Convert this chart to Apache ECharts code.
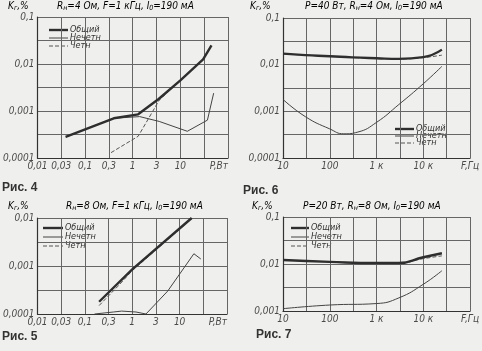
<!DOCTYPE html>
<html>
<head>
<meta charset="utf-8">
<script src="https://cdn.jsdelivr.net/npm/echarts@6/dist/echarts.min.js"></script>
<style>
  html, body { margin: 0; padding: 0; background: #efefed; }
  #chart { width: 482px; height: 351px; }
</style>
</head>
<body>
<div id="chart"></div>
<script>
// Рис. 4  (Kг от P, Rн=4 Ом)
var fig4TotalP = [0.039, 0.4, 1.3, 3.5, 10, 30, 45];
var fig4TotalK = [0.00028, 0.0007, 0.00085, 0.0018, 0.0045, 0.0125, 0.025];
var fig4OddP = [0.039, 0.4, 1.4, 3.6, 14, 37, 50];
var fig4OddK = [0.00028, 0.0007, 0.00076, 0.0006, 0.00037, 0.00064, 0.0024];
var fig4EvenP = [0.35, 1.3, 3.6, 10, 30, 45];
var fig4EvenK = [0.00013, 0.00029, 0.0017, 0.0045, 0.0125, 0.025];

// Рис. 6  (Kг от F, P=40 Вт)
var fig6F = [10, 30, 100, 300, 1000, 3000, 10000, 25000];
var fig6Total = [0.0172, 0.016, 0.0152, 0.0143, 0.0137, 0.0133, 0.0145, 0.021];
var fig6Even = [0.0172, 0.016, 0.0152, 0.0143, 0.0137, 0.0133, 0.0142, 0.016];
var fig6OddF = [10, 30, 100, 200, 400, 1000, 3000, 10000, 25000];
var fig6Odd = [0.0018, 0.00077, 0.00042, 0.00033, 0.00036, 0.00058, 0.0014, 0.0039, 0.0092];

// Рис. 5  (Kг от P, Rн=8 Ом)
var fig5TotalP = [0.2, 1, 18];
var fig5TotalK = [0.00018, 0.00085, 0.01];
var fig5EvenP = [0.2, 0.5, 1, 18];
var fig5EvenK = [0.00015, 0.00038, 0.0008, 0.0097];
var fig5OddP = [0.16, 0.4, 0.6, 1.2, 1.95, 5.6, 20, 28];
var fig5OddK = [0.0001, 0.00011, 0.000115, 0.00011, 0.0001, 0.0003, 0.0018, 0.0014];

// Рис. 7  (Kг от F, P=20 Вт)
var fig7F = [10, 100, 1000, 3000, 10000, 25000];
var fig7Total = [0.0122, 0.0111, 0.0105, 0.0105, 0.0139, 0.0169];
var fig7Even = [0.0122, 0.0111, 0.0105, 0.0105, 0.013, 0.0149];
var fig7Odd = [0.00112, 0.00134, 0.00144, 0.0019, 0.0037, 0.0072];

// подписи делений
var pTicks = ['0,01', '0,03', '0,1', '0,3', '1', '3', '10', '', 'P,Вт'];
var fTicks = ['10', '', '100', '', '1 к', '', '10 к', '', 'F,Гц'];
var kTicks4 = ['0,0001', '', '0,001', '', '0,01', '', '0,1'];
var kTicks5 = ['0,0001', '', '0,001', '', '0,01'];
var kTicks7 = ['0,001', '', '0,01', '', '0,1'];
var names = ['Общий', 'Нечетн', 'Четн'];

var font = "'Liberation Sans Narrow', 'DejaVu Sans Condensed', 'Liberation Sans', sans-serif";
var ink = '#333';
var txt = '#4a4a4a';
var step = Math.sqrt(10);
// стили трёх кривых: общий, нечетн, четн
var styles = [
	{ color: '#2e2e2e', width: 2.4, type: 'solid' },
	{ color: '#444', width: 1, type: 'solid' },
	{ color: '#555', width: 1, type: [4, 2] }
];

function zip(xs, ys) {
	var out = [];
	for (var i = 0; i < xs.length; i++) out.push([xs[i], ys[i]]);
	return out;
}

function axisX(gi, min, max, labels, alignMax) {
	return {
		type: 'log', logBase: step, gridIndex: gi, min: min, max: max,
		axisLine: { lineStyle: { color: ink, width: 1.2 } },
		axisTick: { show: false },
		splitLine: { show: true, lineStyle: { color: '#666', width: 1 } },
		axisLabel: {
			interval: 0, margin: 3, fontSize: 10, fontStyle: 'italic', color: txt, fontFamily: font,
			showMinLabel: true, showMaxLabel: true, alignMaxLabel: alignMax,
			formatter: function(v, i) { return labels[i] || ''; }
		}
	};
}

function axisY(gi, min, max, labels) {
	return {
		type: 'log', logBase: step, gridIndex: gi, min: min, max: max,
		axisLine: { show: true, lineStyle: { color: ink, width: 1.2 } },
		axisTick: { show: false },
		splitLine: { show: true, lineStyle: { color: '#666', width: 1 } },
		axisLabel: {
			interval: 0, margin: 3, fontSize: 10, fontStyle: 'italic', color: txt, fontFamily: font,
			showMinLabel: true, showMaxLabel: true,
			formatter: function(v, i) { return labels[i] || ''; }
		}
	};
}

function lines(gi, sets, smooth) {
	return sets.map(function(d, k) {
		return {
			name: names[k], type: 'line', xAxisIndex: gi, yAxisIndex: gi, data: d, smooth: smooth,
			symbol: 'none', lineStyle: styles[k], itemStyle: { color: styles[k].color }, z: k == 0 ? 3 : 2
		};
	});
}

// легенда рисуется вручную: короткий отрезок + подпись
function legendAt(x, y, len, gap) {
	var out = [];
	for (var k = 0; k < 3; k++) {
		var yy = y + k * gap;
		out.push({
			type: 'line', shape: { x1: x, y1: yy, x2: x + len, y2: yy },
			style: { stroke: styles[k].color, lineWidth: styles[k].width, lineDash: k == 2 ? [4, 2] : null }
		});
		out.push({
			type: 'text', x: x + len + 2, y: yy,
			style: { text: names[k], fill: '#333', font: 'italic 9px ' + font, textVerticalAlign: 'middle' }
		});
	}
	return out;
}

var rich = {
	i: { fontSize: 10, fontStyle: 'italic', fontFamily: font, color: txt, lineHeight: 12 },
	s: { fontSize: 7, fontStyle: 'italic', fontFamily: font, color: txt, lineHeight: 8, verticalAlign: 'bottom' }
};

function label(x, y, text) {
	return { type: 'text', left: x, top: y, style: { text: text, rich: rich } };
}

function caption(x, y, text) {
	return { type: 'text', left: x, top: y, style: { text: text, fill: '#333', font: 'bold 12px "Liberation Sans", sans-serif' } };
}

var chart = echarts.init(document.getElementById('chart'));
var series = []
	.concat(lines(0, [zip(fig4TotalP, fig4TotalK), zip(fig4OddP, fig4OddK), zip(fig4EvenP, fig4EvenK)], false))
	.concat(lines(1, [zip(fig6F, fig6Total), zip(fig6OddF, fig6Odd), zip(fig6F, fig6Even)], true))
	.concat(lines(2, [zip(fig5TotalP, fig5TotalK), zip(fig5OddP, fig5OddK), zip(fig5EvenP, fig5EvenK)], false))
	.concat(lines(3, [zip(fig7F, fig7Total), zip(fig7F, fig7Odd), zip(fig7F, fig7Even)], true));

var graphics = [
	label(8, 1, '{i|K}{s|г}{i|,%}'),
	label(57, 1, '{i|R}{s|н}{i|=4 Ом, F=1 кГц, I}{s|0}{i|=190 мА}'),
	label(250, 1, '{i|K}{s|г}{i|,%}'),
	label(305, 1, '{i|P=40 Вт, R}{s|н}{i|=4 Ом, I}{s|0}{i|=190 мА}'),
	label(8, 201, '{i|K}{s|г}{i|,%}'),
	label(66, 201, '{i|R}{s|н}{i|=8 Ом, F=1 кГц, I}{s|0}{i|=190 мА}'),
	label(252, 201, '{i|K}{s|г}{i|,%}'),
	label(303, 201, '{i|P=20 Вт, R}{s|н}{i|=8 Ом, I}{s|0}{i|=190 мА}'),
	caption(2, 182, 'Рис. 4'),
	caption(243, 185, 'Рис. 6'),
	caption(2, 331, 'Рис. 5'),
	caption(256, 329, 'Рис. 7')
]
	.concat(legendAt(49, 30, 19, 8))
	.concat(legendAt(395, 129, 19, 7))
	.concat(legendAt(43, 228, 20, 9))
	.concat(legendAt(291, 228, 18, 9));

chart.setOption({
	backgroundColor: '#efefed',
	animation: false,
	grid: [
		{ left: 34, top: 17, width: 194, height: 141 },
		{ left: 283, top: 18, width: 190, height: 140 },
		{ left: 34, top: 218, width: 193, height: 96 },
		{ left: 283, top: 217, width: 190, height: 94 }
	],
	xAxis: [
		axisX(0, 0.01, 100, pTicks, 'right'),
		axisX(1, 10, 100000, fTicks, 'center'),
		axisX(2, 0.01, 100, pTicks, 'right'),
		axisX(3, 10, 100000, fTicks, 'center')
	],
	yAxis: [
		axisY(0, 0.0001, 0.1, kTicks4),
		axisY(1, 0.0001, 0.1, kTicks4),
		axisY(2, 0.0001, 0.01, kTicks5),
		axisY(3, 0.001, 0.1, kTicks7)
	],
	graphic: graphics,
	series: series
});
</script>
</body>
</html>
